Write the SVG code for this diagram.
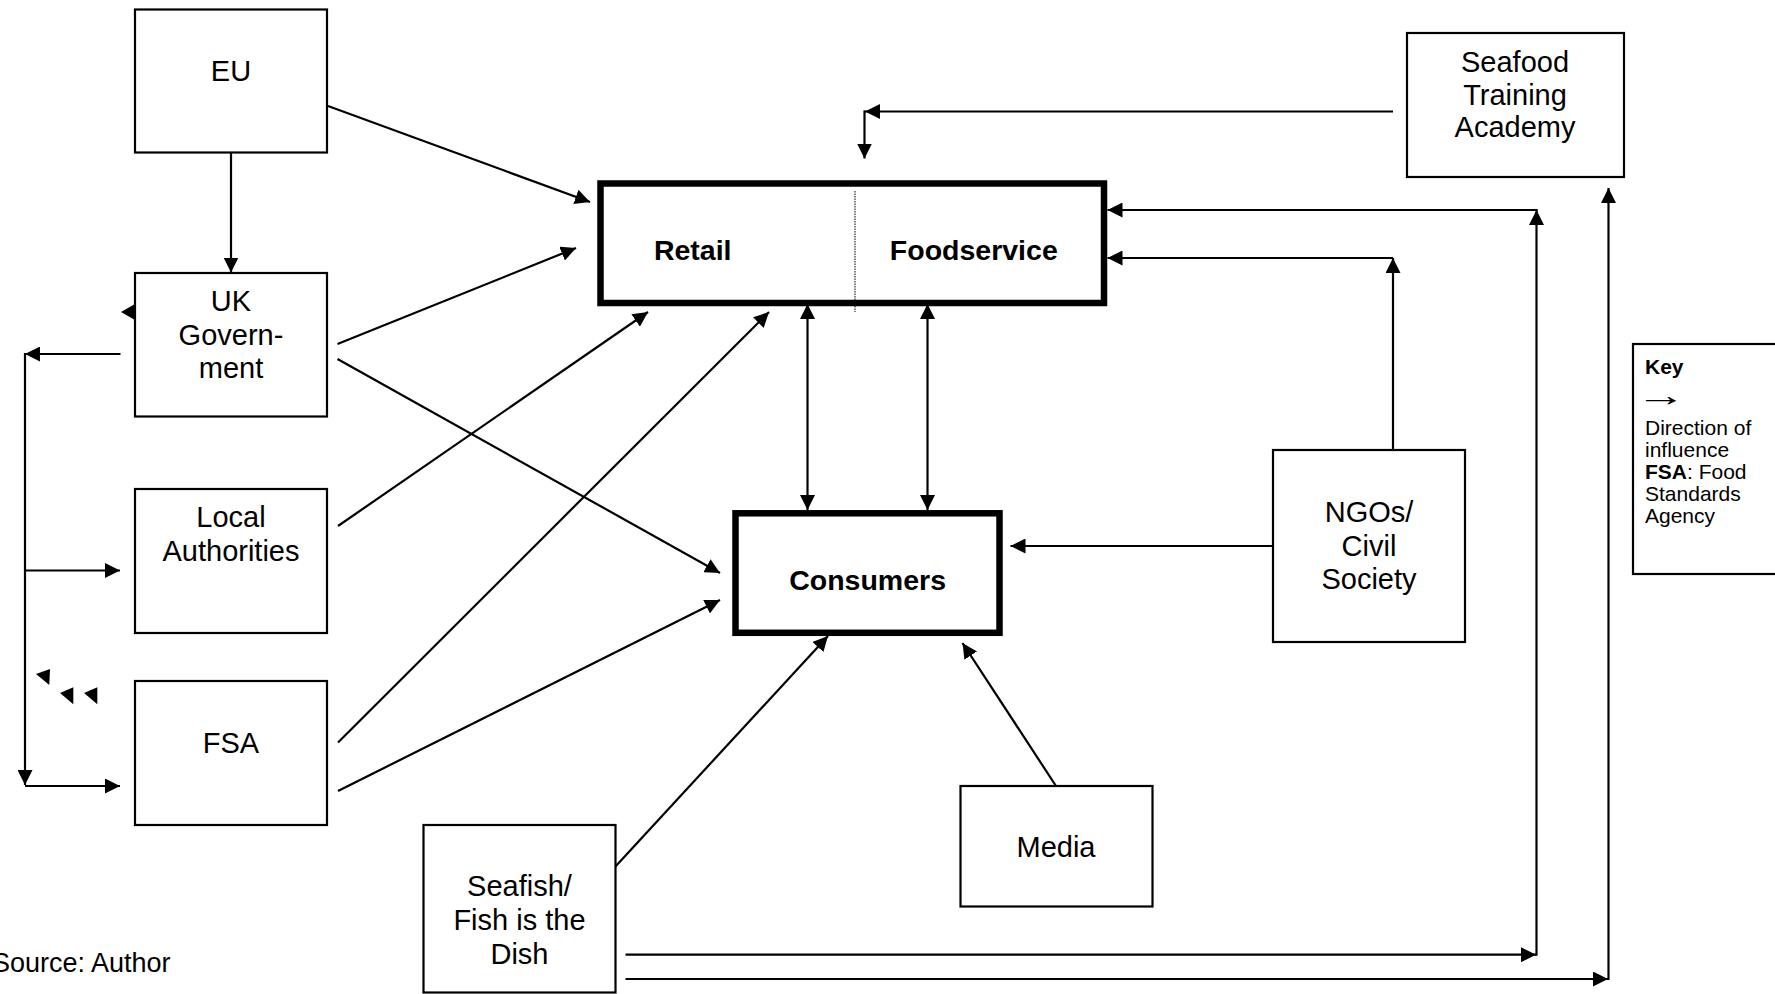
<svg xmlns="http://www.w3.org/2000/svg" width="1775" height="994" viewBox="0 0 1775 994">
<style>
  .box{fill:#fff;stroke:#000;stroke-width:2.2}
  .thick{fill:#fff;stroke:#000;stroke-width:6.5}
  .t{font-family:"Liberation Sans",Arial,sans-serif;font-size:29px;fill:#000;text-anchor:middle}
  .b{font-family:"Liberation Sans",Arial,sans-serif;font-size:28.5px;font-weight:bold;fill:#000;text-anchor:middle}
  .k{font-family:"Liberation Sans",Arial,sans-serif;font-size:21px;fill:#000}
  .c{fill:none;stroke:#000;stroke-width:2.2}
  .e{marker-end:url(#ah)}
  .s{marker-start:url(#ah)}
</style>
<defs>
  <marker id="ah" markerUnits="userSpaceOnUse" markerWidth="15" markerHeight="15" refX="15" refY="7.5" orient="auto-start-reverse">
    <path d="M0,0 L15,7.5 L0,15 Z" fill="#000"/>
  </marker>
</defs>
<rect width="1775" height="994" fill="#fff"/>

<g id="connectors">
  <line class="c e" x1="231" y1="153" x2="231" y2="272.5"/>
  <line class="c e" x1="328" y1="106" x2="590" y2="202"/>
  <line class="c e" x1="337.5" y1="344" x2="576" y2="248"/>
  <line class="c e" x1="337.5" y1="359" x2="720" y2="573"/>
  <line class="c e" x1="338" y1="526" x2="648" y2="312"/>
  <line class="c e" x1="338" y1="742.5" x2="769" y2="312"/>
  <line class="c e" x1="338" y1="791" x2="720" y2="600"/>
  <line class="c e" x1="615" y1="867" x2="828" y2="636"/>
  <line class="c e" x1="1056" y1="786" x2="962.5" y2="643"/>
  <line class="c e" x1="1273" y1="546" x2="1010.5" y2="546"/>
  <path class="c e" d="M1393,450 V258"/>
  <path class="c e" d="M1393,258 H1107.5"/>
  <path class="c e" d="M625.5,954.7 H1536"/>
  <path class="c e" d="M1536.5,955.8 V210"/>
  <path class="c e" d="M1537.6,210 H1107.5"/>
  <path class="c e" d="M625.5,979 H1608"/>
  <path class="c e" d="M1608.5,980 V188"/>
  <path class="c e" d="M1393,111.5 H865"/>
  <path class="c e" d="M864.5,110.4 V158.5"/>
  <path class="c s e" d="M807.5,304 V510"/>
  <path class="c s e" d="M927.5,304 V510"/>
  <path class="c e" d="M120.5,354 H25"/>
  <path class="c e" d="M25,352.9 V785"/>
  <path class="c e" d="M25,570.5 H120"/>
  <path class="c e" d="M25,786 H120"/>
  <polygon points="121,312 135,304 135,320" fill="#000"/>
  <polygon points="36,674 50,669 49.3,685" fill="#000"/>
  <polygon points="60,693 73.3,687.3 73.3,704.3" fill="#000"/>
  <polygon points="84,693 97.3,687.3 97.3,704.3" fill="#000"/>
</g>

<g id="eu">
  <rect class="box" x="135" y="9.5" width="192" height="143"/>
  <text class="t" x="231" y="81">EU</text>
</g>
<g id="uk-government">
  <rect class="box" x="135" y="273" width="192" height="143.5"/>
  <text class="t" x="231" y="311">UK</text>
  <text class="t" x="231" y="345">Govern-</text>
  <text class="t" x="231" y="378">ment</text>
</g>
<g id="local-authorities">
  <rect class="box" x="135" y="489" width="192" height="144"/>
  <text class="t" x="231" y="527">Local</text>
  <text class="t" x="231" y="561">Authorities</text>
</g>
<g id="fsa">
  <rect class="box" x="135" y="681" width="192" height="144"/>
  <text class="t" x="231" y="752.5">FSA</text>
</g>
<g id="seafish">
  <rect class="box" x="423.5" y="825" width="192" height="167.5"/>
  <text class="t" x="519.5" y="896">Seafish/</text>
  <text class="t" x="519.5" y="930">Fish is the</text>
  <text class="t" x="519.5" y="964">Dish</text>
</g>
<g id="media">
  <rect class="box" x="960.5" y="786" width="192" height="120.5"/>
  <text class="t" x="1056" y="857">Media</text>
</g>
<g id="ngos">
  <rect class="box" x="1273" y="450" width="192" height="192"/>
  <text class="t" x="1369" y="522">NGOs/</text>
  <text class="t" x="1369" y="556">Civil</text>
  <text class="t" x="1369" y="589">Society</text>
</g>
<g id="seafood-training-academy">
  <rect class="box" x="1407" y="33" width="217" height="144"/>
  <text class="t" x="1515" y="72">Seafood</text>
  <text class="t" x="1515" y="104.5">Training</text>
  <text class="t" x="1515" y="137">Academy</text>
</g>
<g id="retail-foodservice">
  <rect class="thick" x="600.5" y="183.5" width="503.5" height="119.5"/>
  <line x1="855" y1="191" x2="855" y2="312" stroke="#000" stroke-width="1" stroke-dasharray="1.5,1"/>
  <text class="b" x="692.7" y="260">Retail</text>
  <text class="b" x="973.8" y="260">Foodservice</text>
</g>
<g id="consumers">
  <rect class="thick" x="735.5" y="513.3" width="264" height="119.5"/>
  <text class="b" x="867.6" y="589.5">Consumers</text>
</g>
<g id="key">
  <rect class="box" x="1633" y="344" width="200" height="230"/>
  <text class="k" x="1645" y="374.3" font-weight="bold">Key</text>
  <text class="k" transform="translate(1636,406) scale(1.8,1.1)" style="font-size:28px">→</text>
  <text class="k" x="1645" y="435.3">Direction of</text>
  <text class="k" x="1645" y="457">influence</text>
  <text class="k" x="1645" y="479"><tspan font-weight="bold">FSA</tspan>: Food</text>
  <text class="k" x="1645" y="501.3">Standards</text>
  <text class="k" x="1645" y="523.3">Agency</text>
</g>
<g id="source">
  <text class="t" x="-8" y="972" style="text-anchor:start;font-size:27px">Source: Author</text>
</g>
</svg>
